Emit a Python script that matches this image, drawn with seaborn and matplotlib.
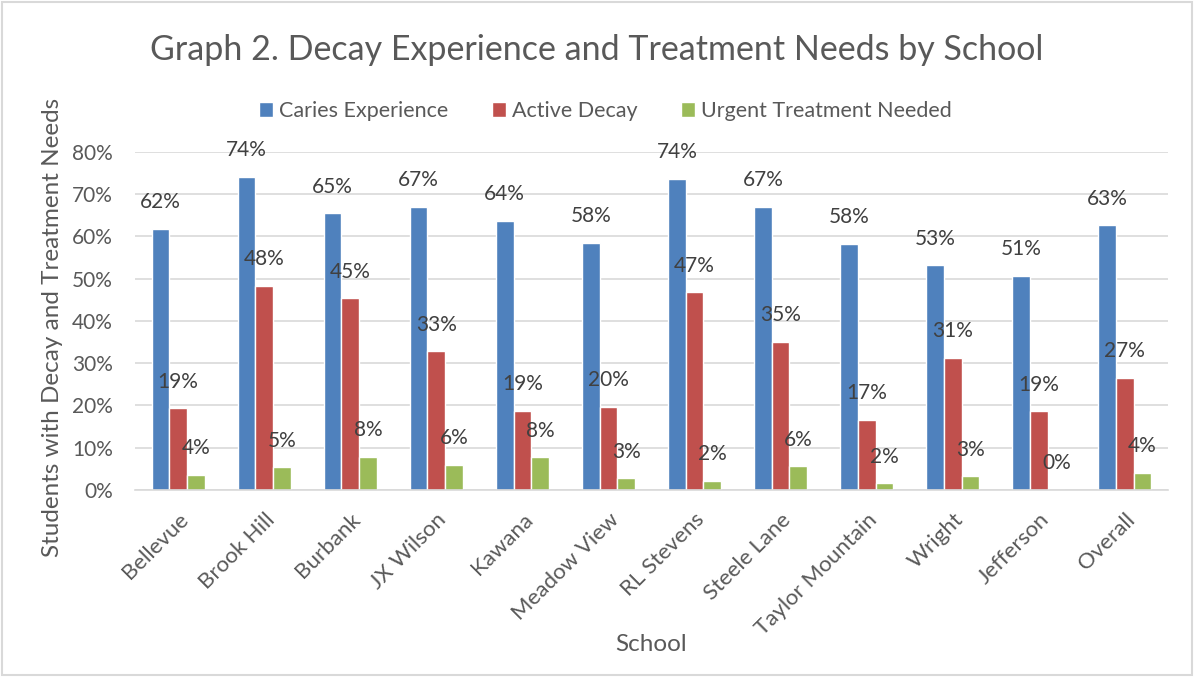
import numpy as np
import pandas as pd
import matplotlib
matplotlib.use('Agg')
import matplotlib.pyplot as plt
import matplotlib.ticker as mticker
from matplotlib.patches import Rectangle
import seaborn as sns

# ── data ────────────────────────────────────────────────────────────
schools = ['Bellevue', 'Brook Hill', 'Burbank', 'JX Wilson', 'Kawana',
           'Meadow View', 'RL Stevens', 'Steele Lane', 'Taylor Mountain',
           'Wright', 'Jefferson', 'Overall']
caries_exp = [0.617, 0.741, 0.654, 0.670, 0.636, 0.584,
              0.736, 0.669, 0.582, 0.531, 0.507, 0.626]
active_decay = [0.193, 0.483, 0.453, 0.328, 0.187, 0.196,
                0.467, 0.351, 0.166, 0.313, 0.186, 0.266]
urgent_tx = [0.036, 0.054, 0.079, 0.060, 0.077, 0.028,
             0.021, 0.056, 0.016, 0.032, 0.0, 0.040]
series = ['Caries Experience', 'Active Decay', 'Urgent Treatment Needed']
colors = ['#4F81BD', '#C0504D', '#9BBB59']
y_ticks = [0, 0.1, 0.2, 0.3, 0.4, 0.5, 0.6, 0.7, 0.8]

df = pd.DataFrame({'School': schools, series[0]: caries_exp,
                   series[1]: active_decay, series[2]: urgent_tx})
long_df = df.melt(id_vars='School', var_name='Measure', value_name='Pct')

# ── style ───────────────────────────────────────────────────────────
sns.set_theme(style='white')
plt.rcParams['font.family'] = ['Lato', 'DejaVu Sans']
txt = '#595959'
grid_c = '#D9D9D9'

fig = plt.figure(figsize=(11.94, 6.77), dpi=100)
ax = fig.add_axes([0.1131, 0.2762, 0.8651, 0.4998])

sns.barplot(data=long_df, x='School', y='Pct', hue='Measure',
            hue_order=series, palette=colors, width=0.615, gap=0,
            saturation=1, ax=ax, order=schools)

for cont in ax.containers:
    ax.bar_label(cont, labels=[f'{v:.0%}' for v in cont.datavalues],
                 padding=12, fontsize=15, color='#404040')

ax.set_ylim(0, 0.8)
ax.set_yticks(y_ticks)
ax.yaxis.set_major_formatter(mticker.PercentFormatter(1.0, decimals=0))
ax.set_xlim(-0.5, len(schools) - 0.5)
ax.grid(axis='y', color=grid_c, linewidth=1.2)
ax.set_axisbelow(True)
for s in ['top', 'right', 'left']:
    ax.spines[s].set_visible(False)
ax.spines['bottom'].set_color(grid_c)
ax.spines['bottom'].set_linewidth(1.2)

ax.tick_params(axis='y', length=0, pad=16, labelsize=15, labelcolor=txt)
ax.tick_params(axis='x', length=0, pad=14, labelsize=16, labelcolor=txt)
plt.setp(ax.get_xticklabels(), rotation=45, ha='right', va='top',
         rotation_mode='anchor')

ax.set_xlabel('School', fontsize=17.5, color=txt)
ax.set_ylabel('Students with Decay and Treatment Needs', fontsize=17.5, color=txt)
ax.xaxis.set_label_coords(0.5, -0.425)
ax.yaxis.set_label_coords(-0.07, 0.48)

sns.move_legend(ax, 'center', bbox_to_anchor=(0.507, 0.836),
                bbox_transform=fig.transFigure, ncol=3, frameon=False,
                title=None, fontsize=15.5, handlelength=0.65,
                handleheight=0.65, handletextpad=0.3, columnspacing=2.0)
for t in ax.get_legend().get_texts():
    t.set_color(txt)

fig.text(0.5, 0.9114, 'Graph 2. Decay Experience and Treatment Needs by School',
         ha='center', va='baseline', fontsize=24.5, color=txt)

# light chart-area border
fig.patches.append(Rectangle((0.002, 0.003), 0.996, 0.994, transform=fig.transFigure,
                             fill=False, edgecolor=grid_c, linewidth=1.5))

fig.savefig('out.png', dpi=100)
